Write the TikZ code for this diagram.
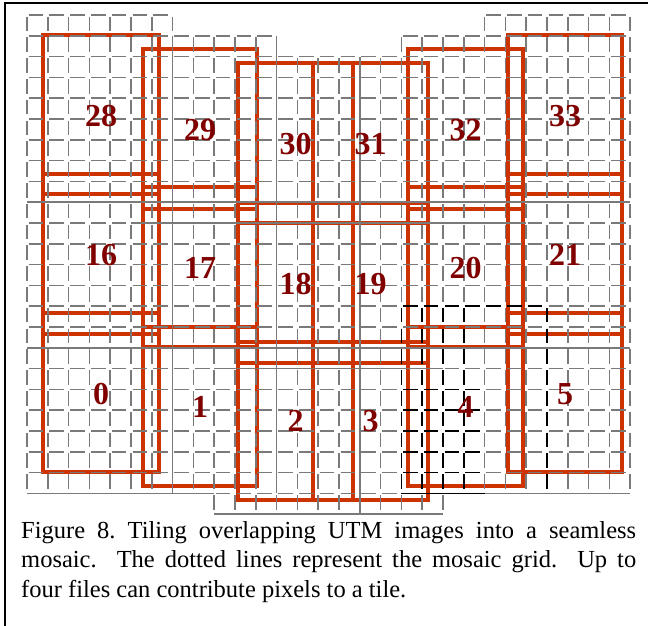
\documentclass[tikz,border=0pt]{standalone}
\usepackage{fontspec}
\setmainfont{Liberation Serif}
\definecolor{gridgrey}{RGB}{122,122,122}
\definecolor{tileorange}{RGB}{204,51,0}
\definecolor{labelred}{RGB}{128,0,0}
\newcommand\gridregion[4]{%
  \foreach \ii in {#1,...,#2}{\draw[gridline] ({27+20.8*\ii},{15+20.8*#3}) -- ({27+20.8*\ii},{15+20.8*#4});}
  \foreach \jj in {#3,...,#4}{\draw[gridline] ({27+20.8*#1},{15+20.8*\jj}) -- ({27+20.8*#2},{15+20.8*\jj});}
}
\newcommand\hsolid[3]{\draw[gridsolid] ({27+20.8*#2},{15+20.8*#1}) -- ({27+20.8*#3},{15+20.8*#1});}
\newcommand\vsolid[3]{\draw[gridsolid] ({27+20.8*#1},{15+20.8*#2}) -- ({27+20.8*#1},{15+20.8*#3});}
\newcommand\hblack[3]{\draw[blackgrid] ({27+20.8*#2},{15+20.8*#1}) -- ({27+20.8*#3},{15+20.8*#1});}
\newcommand\vblack[3]{\draw[blackgrid] ({27+20.8*#1},{15+20.8*#2}) -- ({27+20.8*#1},{15+20.8*#3});}
\newcommand\tilebox[4]{\draw[tile] (#1,#3) rectangle (#2,#4);}
\tikzset{
  gridline/.style={draw=gridgrey, line width=1.6pt, dash pattern=on 14.5pt off 6.3pt, dash phase=19.2pt},
  gridsolid/.style={draw=gridgrey, line width=1.6pt},
  blackgrid/.style={draw=black, line width=1.5pt, dash pattern=on 14.5pt off 6.3pt, dash phase=19.2pt},
  tile/.style={draw=tileorange, line width=3.3pt},
  lbl/.style={font=\fontsize{32}{32}\selectfont\bfseries, text=labelred, inner sep=0pt},
}
\begin{document}
\begin{tikzpicture}[x=1pt,y=-1pt]
\useasboundingbox (0,0) rectangle (648,626);
\fill[white] (0,0) rectangle (648,626);
% frame
\draw[line width=2pt] (5,626) -- (5,3) -- (648,3);
% orange image footprints
\tilebox{43}{159}{35}{194}\tilebox{43}{159}{174}{334}\tilebox{43}{159}{313}{472}
\tilebox{143}{257}{49}{209}\tilebox{143}{257}{187}{347}\tilebox{143}{257}{327}{486}
\tilebox{238}{353}{63}{223}\tilebox{238}{353}{203}{363}\tilebox{238}{353}{342}{500}
\tilebox{313}{428}{63}{223}\tilebox{313}{428}{203}{363}\tilebox{313}{428}{342}{500}
\tilebox{408}{523}{49}{209}\tilebox{408}{523}{187}{347}\tilebox{408}{523}{327}{486}
\tilebox{508}{622}{35}{194}\tilebox{508}{622}{174}{334}\tilebox{508}{622}{313}{472}
% dashed grid regions
\gridregion{0}{7}{0}{9}\gridregion{0}{7}{7}{16}\gridregion{0}{7}{14}{23}
\gridregion{5}{12}{1}{10}\gridregion{5}{12}{8}{16}\gridregion{5}{12}{15}{23}
\gridregion{9}{16}{2}{10}\gridregion{9}{16}{9}{17}\gridregion{9}{16}{15}{24}
\gridregion{13}{20}{2}{10}\gridregion{13}{20}{9}{17}\gridregion{13}{20}{15}{24}
\gridregion{18}{24}{1}{10}\gridregion{18}{24}{8}{16}\gridregion{18}{24}{15}{23}
\gridregion{22}{29}{0}{9}\gridregion{22}{29}{7}{16}\gridregion{22}{29}{14}{23}
% solid overlaps
\hsolid{9}{0}{29}\hsolid{16}{0}{29}\hsolid{10}{5}{24}\hsolid{17}{9}{20}
\hsolid{23}{0}{9}\hsolid{23}{20}{29}\hsolid{24}{9}{20}
\vsolid{7}{1}{23}\vsolid{12}{1}{23}\vsolid{16}{2}{24}
% black tile grid
\vblack{18}{14}{23}\vblack{19}{14}{23}\vblack{20}{14}{23}\vblack{21}{14}{23}\vblack{25}{14}{23}
\hblack{14}{18}{25}
\foreach \jj in {18,...,22}{\hblack{\jj}{18}{22}}
\draw[black, line width=1.5pt] ({27+20.8*18},{15+20.8*23}) -- ({27+20.8*22},{15+20.8*23});
% labels
\node[lbl] (t28) at (101,116) {28};
\node[lbl] (t16) at (101,255) {16};
\node[lbl] (t0) at (101,394) {0};
\node[lbl] (t29) at (200,130) {29};
\node[lbl] (t17) at (200,268) {17};
\node[lbl] (t1) at (200,407) {1};
\node[lbl] (t30) at (295.5,144) {30};
\node[lbl] (t18) at (295.5,284) {18};
\node[lbl] (t2) at (295.5,421) {2};
\node[lbl] (t31) at (370.5,144) {31};
\node[lbl] (t19) at (370.5,284) {19};
\node[lbl] (t3) at (370.5,421) {3};
\node[lbl] (t32) at (465.5,130) {32};
\node[lbl] (t20) at (465.5,268) {20};
\node[lbl] (t4) at (465.5,407) {4};
\node[lbl] (t33) at (565,116) {33};
\node[lbl] (t21) at (565,255) {21};
\node[lbl] (t5) at (565,394) {5};
% caption
\node[anchor=base west, text width=615pt, align=justify, inner sep=0pt,
      font=\fontsize{24.5}{29.5}\selectfont] (cap) at (21,538)
  {\frenchspacing\hyphenpenalty=10000\exhyphenpenalty=10000 Figure 8. Tiling overlapping UTM images into a seamless\linebreak mosaic.\ \ The dotted lines represent the mosaic grid.\ \ Up to\linebreak four files can contribute pixels to a tile.};
\end{tikzpicture}
\end{document}
